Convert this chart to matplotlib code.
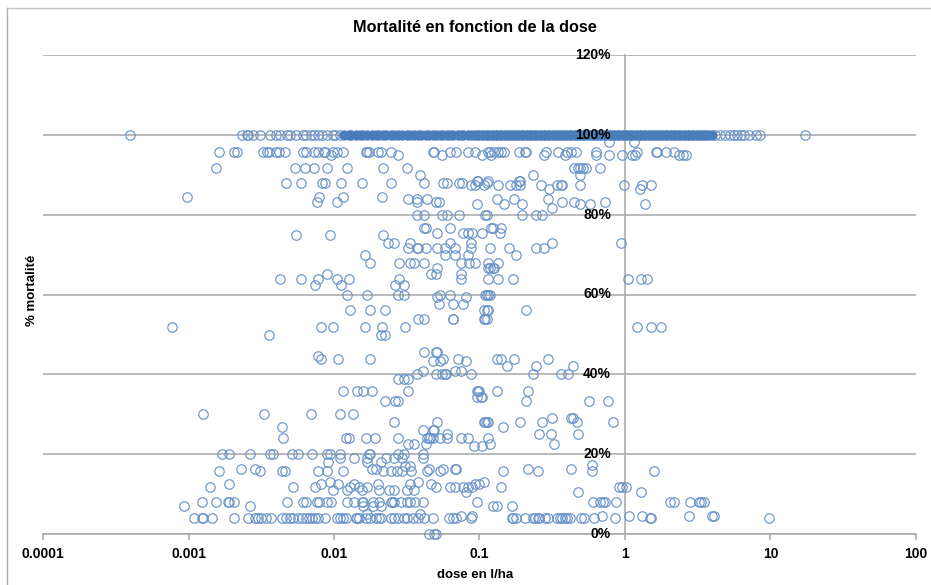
import numpy as np
import matplotlib
matplotlib.use('Agg')
import matplotlib.pyplot as plt
from matplotlib.lines import Line2D
from matplotlib.ticker import NullLocator

plt.rcParams['font.family'] = ['Liberation Sans', 'DejaVu Sans']

# log10 of the dose (l/ha), one list per mortality level
r100_left = [-3.40, -2.63, -2.60, -2.59, -2.56, -2.51, -2.44, -2.40, -2.37, -2.32, -2.30, -2.26, -2.21,
             -2.19, -2.16, -2.14, -2.11, -2.08, -2.05, -2.01, -1.99, -1.96]
# solid part of the band: single points cannot be told apart here, spacing is estimated
r100_band = [-1.93, -1.90, -1.88, -1.85,
             -1.82, -1.80, -1.77, -1.74, -1.71, -1.69, -1.66, -1.64, -1.61, -1.59, -1.56, -1.53, -1.50,
             -1.48, -1.45, -1.42, -1.40, -1.37, -1.35, -1.32, -1.30, -1.27, -1.25, -1.22, -1.20, -1.18,
             -1.15, -1.13, -1.11, -1.08, -1.06, -1.04, -1.02,
             -1.00, -0.98, -0.97, -0.95, -0.94, -0.92, -0.91, -0.89, -0.88, -0.86, -0.85, -0.83, -0.82,
             -0.80, -0.79, -0.77, -0.76, -0.74, -0.73, -0.71, -0.70, -0.68, -0.67, -0.65, -0.64, -0.62,
             -0.61, -0.59, -0.58, -0.56, -0.55, -0.53, -0.52, -0.50, -0.49, -0.47, -0.46, -0.44, -0.43,
             -0.41, -0.40, -0.38, -0.37, -0.35, -0.34, -0.32, -0.31, -0.29, -0.28, -0.26, -0.25, -0.23,
             -0.22, -0.20, -0.19, -0.17, -0.16, -0.14, -0.13, -0.11, -0.10, -0.08, -0.07, -0.05, -0.04,
             -0.02, -0.01, 0.01, 0.02, 0.04, 0.05, 0.07, 0.08, 0.10, 0.11, 0.13, 0.14, 0.16, 0.17, 0.19,
             0.20, 0.22, 0.23, 0.25, 0.26, 0.28, 0.29, 0.31, 0.32, 0.34, 0.35, 0.37, 0.38, 0.40, 0.41,
             0.43, 0.44, 0.46, 0.47, 0.49, 0.50, 0.52, 0.53, 0.55, 0.56, 0.58, 0.60]
r100_right = [0.62, 0.65, 0.69, 0.72, 0.75, 0.77, 0.80, 0.82, 0.85, 0.90, 0.93, 1.24]
r982 = [-0.11, 0.06]
r958 = [-2.79, -2.69, -2.67, -2.49, -2.46, -2.45, -2.40, -2.38, -2.34, -2.21, -2.19, -2.14, -2.11, -2.07,
        -2.06, -2.01, -1.98, -1.94, -1.78, -1.77, -1.76, -1.70, -1.68, -1.61, -1.32, -1.31, -1.20, -1.16,
        -1.08, -1.03, -0.94, -0.93, -0.90, -0.87, -0.85, -0.83, -0.73, -0.69, -0.68, -0.54, -0.46, -0.40,
        -0.37, -0.34, -0.20, 0.08, 0.21, 0.22, 0.28, 0.34]
r950 = [-2.02, -1.56, -1.26, -0.98, -0.92, -0.56, -0.41, -0.20, -0.11, -0.02, 0.05, 0.07, 0.37, 0.40, 0.42]
r917 = [-2.81, -2.27, -2.20, -2.14, -2.05, -1.91, -1.66, -1.50, -0.35, -0.32, -0.31, -0.29, -0.27, -0.17]
r899 = [-1.41, -0.63, -0.31]
r879 = [-2.33, -2.23, -2.08, -2.06, -1.95, -1.81, -1.61, -1.38, -1.25, -1.22, -1.14, -1.12, -0.95]
r884 = [-1.01, -1.02, -0.94, -0.73, -0.72]
r874 = [-1.06, -1.03, -0.97, -0.87, -0.79, -0.75, -0.72, -0.58, -0.47, -0.44, -0.43, -0.31, -0.01, 0.12, 0.18]
r865 = [-0.52, 0.10]
r844 = [-3.01, -2.10, -1.94, -1.67]
r839 = [-1.49, -1.43, -1.36, -0.88, -0.76, -0.53]
r832 = [-2.12, -1.98, -1.43, -1.30, -1.28, -0.43, -0.35, -0.14]
r826 = [-1.02, -0.83, -0.71, -0.31, -0.24, 0.14]
r817 = [-0.50]
r800 = [-1.43, -1.38, -1.26, -1.22, -1.14, -0.95, -0.96, -0.71, -0.61, -0.57]
r767 = [-1.38, -1.37, -1.20, -0.92, -0.91, -0.85]
r755 = [-1.29, -1.11, -1.08, -1.05, -0.98, -0.86]
r749 = [-2.26, -2.03, -1.66]
r730 = [-1.63, -1.59, -1.48, -1.20, -1.06, -0.50, -0.03]
r717 = [-1.49, -1.43, -1.42, -1.37, -1.29, -1.24, -1.17, -1.06, -0.93, -0.80, -0.61, -0.56]
r700 = [-1.79, -1.24, -1.17, -1.08, -0.75]
r680 = [-1.75, -1.55, -1.48, -1.45, -1.38, -1.13, -1.07, -0.94, -1.03, -0.87]
r666 = [-1.29, -0.94, -0.93, -0.91, -0.90]
r652 = [-1.33, -1.30, -1.13, -2.05]
r640 = [-2.37, -2.23, -2.11, -1.98, -1.90, -1.55, -1.13, -0.94, -0.87, -0.77, 0.02, 0.11, 0.15]
r625 = [-2.13, -1.95, -1.58, -1.52]
r600 = [-1.91, -1.77, -1.56, -1.52, -1.27, -1.20, -0.96, -0.95, -0.94, -0.93]
r593 = [-1.29, -1.09]
r575 = [-1.28, -1.18, -1.11]
r560 = [-1.89, -1.75, -1.65, -0.97, -0.95, -0.94, -0.68]
r538 = [-1.42, -1.38, -1.18, -1.18, -0.97, -0.96, -0.95]
r518 = [-3.11, -2.09, -2.01, -1.79, -1.67, -1.51, 0.08, 0.18, 0.25]
r498 = [-2.45, -1.68, -1.65]
r457 = [-1.38, -1.30, -1.29]
r447 = [-2.11]
r439 = [-2.09, -1.97, -1.75, -1.15, -1.25, -0.88, -0.85, -0.76, -0.53]
r433 = [-1.32, -1.27, -1.09]
r422 = [-0.36, -0.81, -0.61]
r408 = [-1.39, -1.17, -1.13]
r400 = [-1.43, -1.30, -1.26, -1.24, -1.23, -1.06, -0.63, -0.44, -0.39]
r389 = [-1.56, -1.52, -1.49]
r358 = [-1.94, -1.84, -1.80, -1.74, -1.49, -1.02, -1.01, -1.00, -0.88, -0.67]
r343 = [-1.02, -0.99, -0.98]
r333 = [-1.65, -1.58, -1.56, -0.68, -0.25, -0.12]
r300 = [-2.90, -2.48, -2.16, -1.96, -1.87]
r290 = [-0.50, -0.37, -0.36]
r280 = [-1.59, -1.29, -0.96, -0.95, -0.94, -0.97, -0.72, -0.57, -0.33, -0.08]
r268 = [-2.36, -0.84]
r260 = [-1.39, -1.32, -1.31]
r250 = [-1.22, -0.59, -0.51, -0.32]
r240 = [-2.35, -1.92, -1.90, -1.78, -1.72, -1.56, -1.36, -1.35, -1.34, -1.32, -1.27, -1.22, -1.13, -1.08, -0.94]
r225 = [-1.49, -1.45, -1.37, -0.93, -0.49]
r220 = [-1.04, -0.98]
r200 = [-2.77, -2.72, -2.58, -2.44, -2.42, -2.29, -2.25, -2.15, -2.05, -2.03, -1.96, -1.76, -1.75, -1.56, -1.52, -1.39]
r190 = [-1.96, -1.86, -1.77, -1.64, -1.59, -1.53, -1.39]
r180 = [-2.04, -1.77, -1.68]
r174 = [-0.23]
r170 = [-1.51, -1.48]
r164 = [-2.64, -2.54, -1.74, -1.71, -1.35, -1.25, -1.17, -1.16, -0.67, -0.37]
r158 = [-2.79, -2.51, -2.36, -2.34, -2.11, -2.05, -1.94, -1.66, -1.61, -1.57, -1.53, -1.47, -1.36, -1.27, -0.84, -0.60, -0.23, 0.20]
r130 = [-2.03, -1.42, -0.97]
r125 = [-2.72, -2.09, -1.97, -1.86, -1.70, -1.48, -1.33, -1.03, -1.00]
r118 = [-2.85, -2.28, -2.13, -1.89, -1.83, -1.77, -1.30, -1.20, -1.17, -1.11, -1.08, -1.05, -0.85, -0.04, -0.02, 0.01]
r110 = [-2.01, -1.91, -1.81, -1.69, -1.62, -1.59, -1.50, -1.45]
r105 = [-1.09, -0.32, 0.11]
r079 = [-2.91, -2.81, -2.73, -2.72, -2.69, -2.32, -2.21, -2.19, -2.12, -2.10, -2.05, -2.02, -1.91, -1.86, -1.81,
        -1.80, -1.73, -1.69, -1.61, -1.60, -1.59, -1.54, -1.50, -1.48, -1.44, -1.39, -1.02, -0.22, -0.17, -0.15,
        -0.14, -0.06, 0.31, 0.34, 0.45, 0.51, 0.52, 0.54]
r070 = [-3.03, -2.58, -1.80, -1.73, -1.68, -0.91, -0.88, -0.78]
r050 = [-1.77, -1.41]
r044 = [-1.13, -1.05, -0.16, 0.03, 0.12, 0.44, 0.60, 0.61]
r040 = [-2.96, -2.91, -2.90, -2.84, -2.69, -2.59, -2.54, -2.52, -2.50, -2.47, -2.43, -2.36, -2.33, -2.30, -2.28,
        -2.25, -2.22, -2.19, -2.17, -2.15, -2.13, -2.11, -2.06, -1.98, -1.96, -1.94, -1.92, -1.85, -1.84, -1.83,
        -1.78, -1.75, -1.71, -1.69, -1.68, -1.61, -1.59, -1.56, -1.52, -1.50, -1.46, -1.42, -1.38, -1.32, -1.21,
        -1.18, -1.16, -1.06, -0.78, -0.77, -0.75, -0.69, -0.63, -0.62, -0.60, -0.59, -0.55, -0.53, -0.47, -0.45,
        -0.43, -0.41, -0.40, -0.38, -0.30, -0.28, -0.21, -0.07, 0.17, 0.18, 0.99]
r000 = [-1.35, -1.31, -1.30]

levels = [100, 100, 98.2, 95.8, 95.0, 91.7, 89.9, 87.9, 88.4, 87.4, 86.5, 84.4, 83.9, 83.2, 82.6, 81.7, 80.0,
          76.7, 75.5, 74.9, 73.0, 71.7, 70.0, 68.0, 66.6, 65.2, 64.0, 62.5, 60.0, 59.3, 57.5, 56.0, 53.8, 51.8,
          49.8, 45.7, 44.7, 43.9, 43.3, 42.2, 40.8, 40.0, 38.9, 35.8, 34.3, 33.3, 30.0, 29.0, 28.0, 26.8, 26.0,
          25.0, 24.0, 22.5, 22.0, 20.0, 19.0, 18.0, 17.4, 17.0, 16.4, 15.8, 13.0, 12.5, 11.8, 11.0, 10.5, 7.9,
          7.0, 5.0, 4.4, 4.0, 0.0]
rows = [r100_left, r100_right, r982, r958, r950, r917, r899, r879, r884, r874, r865, r844, r839, r832,
        r826, r817, r800, r767, r755, r749, r730, r717, r700, r680, r666, r652, r640, r625, r600, r593, r575, r560,
        r538, r518, r498, r457, r447, r439, r433, r422, r408, r400, r389, r358, r343, r333, r300, r290, r280, r268,
        r260, r250, r240, r225, r220, r200, r190, r180, r174, r170, r164, r158, r130, r125, r118, r110, r105, r079,
        r070, r050, r044, r040, r000]

y_ticks = [0, 20, 40, 60, 80, 100, 120]
x_ticks = [0.0001, 0.001, 0.01, 0.1, 1, 10, 100]
x_labels = ['0.0001', '0.001', '0.01', '0.1', '1', '10', '100']

W, H = 931, 585
fig = plt.figure(figsize=(W / 100, H / 100), dpi=100)
ax = fig.add_axes([43 / W, (H - 534) / H, 873 / W, 479 / H])

for level, row in zip(levels, rows):
    ax.plot(10.0 ** np.array(row), [level] * len(row), 'o', mfc='none', mec='#6A94CA', mew=0.85, ms=6.8,
            clip_on=False, zorder=3)
ax.plot(10.0 ** np.array(r100_band), [100] * len(r100_band), 'o', mfc='#4A7EBB', mec='#4A7EBB', mew=0.5, ms=6.8,
        zorder=3)

ax.set_xscale('log')
ax.set_xlim(0.0001, 100)
ax.set_ylim(0, 120)
ax.set_xticks(x_ticks)
ax.set_xticklabels(x_labels)
ax.xaxis.set_minor_locator(NullLocator())
ax.set_yticks(y_ticks)
ax.set_yticklabels([])

ax.grid(axis='y', color='#A6A6A6', lw=1.1, zorder=1)
ax.set_axisbelow(True)
for side in ['top', 'right']:
    ax.spines[side].set_visible(False)
ax.spines['left'].set_position(('data', 1))
ax.spines['left'].set_color('#A6A6A6')
ax.spines['left'].set_linewidth(1.1)
ax.spines['bottom'].set_color('#A6A6A6')
ax.spines['bottom'].set_linewidth(1.1)
ax.tick_params(axis='y', length=0)
ax.tick_params(axis='x', length=4, width=1.1, color='#A6A6A6', pad=5, labelsize=10)
for lab in ax.get_xticklabels():
    lab.set_fontweight('bold')

# the % labels sit on top of the 100% band, so they are drawn above the marks
for v in y_ticks:
    ax.annotate(str(v) + '%', xy=(1, v), xytext=(-10, 0), textcoords='offset points', ha='right', va='center',
                fontsize=10, fontweight='bold', color='black', zorder=5, annotation_clip=False)

# grey frame of the pasted chart, top and left edges only
fig.add_artist(Line2D([6.5 / W, 6.5 / W], [0, 1 - 8 / H], color='#ABABAB', lw=1.0))
fig.add_artist(Line2D([6.5 / W, 1], [1 - 8 / H, 1 - 8 / H], color='#C4C4C4', lw=1.0))

fig.text(475 / W, 1 - 28 / H, 'Mortalité en fonction de la dose', ha='center', va='center',
         fontsize=11.7, fontweight='bold')
fig.text(475 / W, 1 - 575 / H, 'dose en l/ha', ha='center', va='center', fontsize=9.5, fontweight='bold')
fig.text(32 / W, 1 - 290 / H, '% mortalité', ha='center', va='center', rotation=90, fontsize=9.5, fontweight='bold')

fig.savefig('out.png', dpi=100)
